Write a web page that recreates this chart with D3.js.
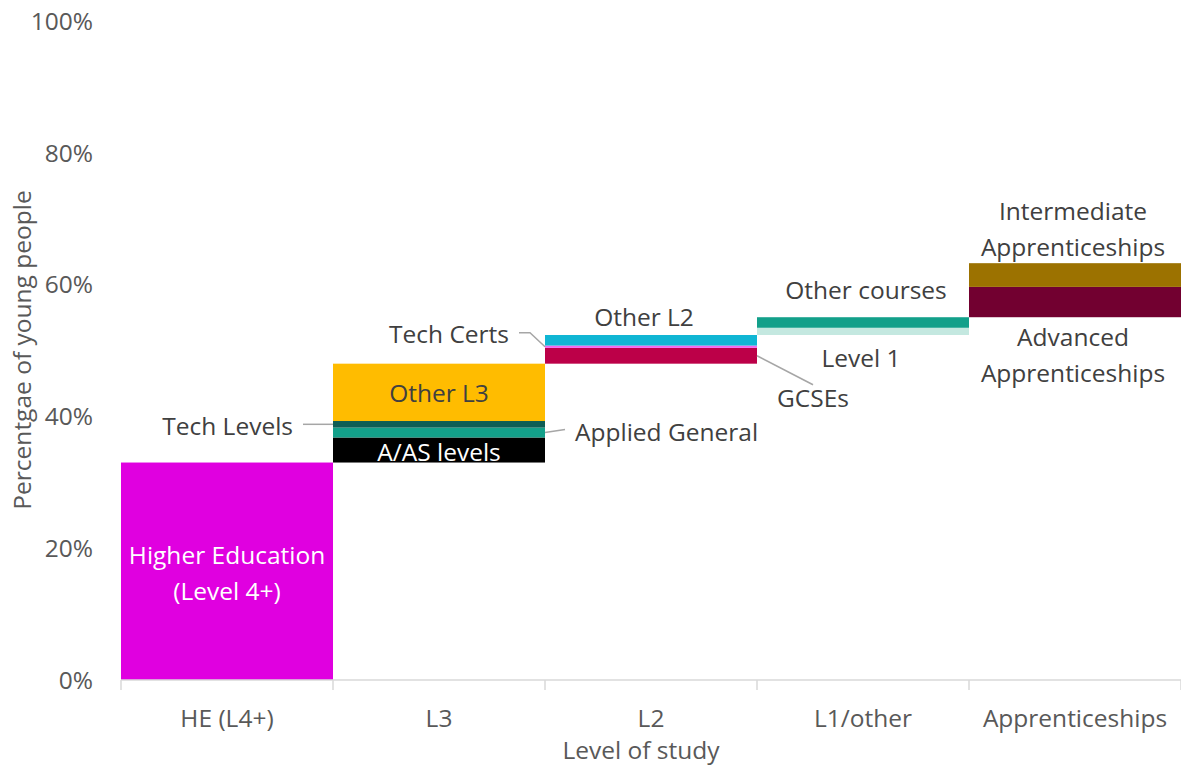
<!DOCTYPE html>
<html>
<head>
<meta charset="utf-8">
<script src="https://cdn.jsdelivr.net/npm/d3@7"></script>
<style>
    html, body { margin: 0; padding: 0; background: #ffffff; }
    svg text { font-family: "Open Sans", "Noto Sans", sans-serif; }
</style>
</head>
<body>
<svg id="chart" width="1181" height="766"></svg>
<script>
// Level of study categories (x axis)
const categories = ["HE (L4+)", "L3", "L2", "L1/other", "Apprenticeships"];

// Segments, stacked bottom-up; each category starts where the previous one ended
const segmentNames = ["Higher Education", "A/AS levels", "Applied General", "Tech Levels", "Other L3",
    "GCSEs", "Tech Certs", "Other L2", "Level 1", "Other courses",
    "Advanced Apprenticeships", "Intermediate Apprenticeships"];
const segmentCategory = ["HE (L4+)", "L3", "L3", "L3", "L3",
    "L2", "L2", "L2", "L1/other", "L1/other",
    "Apprenticeships", "Apprenticeships"];
const segmentValues = [33.0, 3.8, 1.5, 1.0, 8.7,
    2.4, 0.35, 1.6, 1.1, 1.6,
    4.6, 3.6];

const yTicks = [0, 20, 40, 60, 80, 100];

const segmentColors = ["#e000e0", "#000000", "#13a08a", "#0e5e55", "#ffbc00",
    "#bc0048", "#f466f0", "#10b6d4", "#c4e8e0", "#12a08a",
    "#720030", "#9c7200"];

let svg = d3.select("#chart");
let dimensions = getDimensions(svg, {top: 21, right: 0, bottom: 86, left: 121});
let fontSize = 24.5;

// Build waterfall: running total across all segments
let running = 0;
let segments = segmentNames.map((name, i) => {
    let d = {name: name, category: segmentCategory[i], y0: running, y1: running + segmentValues[i], color: segmentColors[i]};
    running = d.y1;
    return d;
});

let scale = {
    x: d3.scaleBand()
        .range([0, dimensions.width])
        .padding(0)
        .domain(categories),
    y: d3.scaleLinear()
        .range([dimensions.height, 0])
        .domain([0, 100])
};

let group = svg.append("g")
    .attr("transform", `translate(${dimensions.margin.left}, ${dimensions.margin.top})`);

// Y tick labels (no axis line)
group.append("g")
    .selectAll("text")
    .data(yTicks)
    .enter()
    .append("text")
    .attr("x", -28)
    .attr("y", d => scale.y(d))
    .attr("dy", "0.36em")
    .attr("text-anchor", "end")
    .style("font-size", fontSize + "px")
    .style("fill", "#595959")
    .text(d => d + "%");

// Bars
group.selectAll(".bar")
    .data(segments)
    .enter()
    .append("rect")
    .attr("class", "bar")
    .attr("x", d => scale.x(d.category))
    .attr("y", d => scale.y(d.y1))
    .attr("width", scale.x.bandwidth())
    .attr("height", d => scale.y(d.y0) - scale.y(d.y1))
    .style("fill", d => d.color);

// X axis line with ticks between categories
let xAxis = group.append("g")
    .attr("transform", `translate(0, ${dimensions.height})`);
xAxis.append("line")
    .attr("x1", 0)
    .attr("x2", dimensions.width)
    .style("stroke", "#d9d9d9")
    .style("stroke-width", 1.5);
xAxis.selectAll(".tick")
    .data(categories.concat([null]))
    .enter()
    .append("line")
    .attr("x1", d => d === null ? dimensions.width : scale.x(d))
    .attr("x2", d => d === null ? dimensions.width : scale.x(d))
    .attr("y1", 0)
    .attr("y2", 10)
    .style("stroke", "#d9d9d9")
    .style("stroke-width", 1.5);
xAxis.selectAll(".cat")
    .data(categories)
    .enter()
    .append("text")
    .attr("x", d => scale.x(d) + scale.x.bandwidth() / 2)
    .attr("y", 38)
    .attr("dy", "0.36em")
    .attr("text-anchor", "middle")
    .style("font-size", fontSize + "px")
    .style("fill", "#595959")
    .text(d => d);

// Axis titles
svg.append("text")
    .attr("x", 641)
    .attr("y", 750)
    .attr("dy", "0.36em")
    .attr("text-anchor", "middle")
    .style("font-size", fontSize + "px")
    .style("fill", "#595959")
    .text("Level of study");

svg.append("text")
    .attr("transform", "translate(22, 350) rotate(-90)")
    .attr("dy", "0.36em")
    .attr("text-anchor", "middle")
    .style("font-size", fontSize + "px")
    .style("fill", "#595959")
    .text("Percentgae of young people");

// Segment labels: where to put each one relative to its segment
let seg = name => segments.find(s => s.name === name);
let left = s => scale.x(s.category);
let right = s => scale.x(s.category) + scale.x.bandwidth();
let mid = s => scale.x(s.category) + scale.x.bandwidth() / 2;
let midY = s => scale.y((s.y0 + s.y1) / 2);

let labelLayout = [
    {name: "Higher Education", lines: ["Higher Education", "(Level 4+)"], x: s => mid(s), y: s => midY(s) + 2, anchor: "middle", color: "#ffffff"},
    {name: "A/AS levels", lines: ["A/AS levels"], x: s => mid(s), y: s => midY(s) + 2, anchor: "middle", color: "#ffffff"},
    {name: "Other L3", lines: ["Other L3"], x: s => mid(s), y: s => midY(s) + 1, anchor: "middle", color: "#404040"},
    {name: "Tech Levels", lines: ["Tech Levels"], x: s => left(s) - 40, y: s => midY(s) + 2, anchor: "end", color: "#404040"},
    {name: "Applied General", lines: ["Applied General"], x: s => right(s) + 30, y: s => midY(s), anchor: "start", color: "#404040"},
    {name: "Tech Certs", lines: ["Tech Certs"], x: s => left(s) - 36, y: s => midY(s) - 13, anchor: "end", color: "#404040"},
    {name: "Other L2", lines: ["Other L2"], x: s => mid(s) - 7, y: s => scale.y(s.y1) - 18, anchor: "middle", color: "#404040"},
    {name: "GCSEs", lines: ["GCSEs"], x: s => right(s) + 56, y: s => midY(s) + 42, anchor: "middle", color: "#404040"},
    {name: "Level 1", lines: ["Level 1"], x: s => mid(s) - 2, y: s => scale.y(s.y0) + 23, anchor: "middle", color: "#404040"},
    {name: "Other courses", lines: ["Other courses"], x: s => mid(s) + 3, y: s => scale.y(s.y1) - 27, anchor: "middle", color: "#404040"},
    {name: "Advanced Apprenticeships", lines: ["Advanced", "Apprenticeships"], x: s => mid(s) - 2, y: s => scale.y(s.y0) + 38, anchor: "middle", color: "#404040"},
    {name: "Intermediate Apprenticeships", lines: ["Intermediate", "Apprenticeships"], x: s => mid(s) - 2, y: s => scale.y(s.y1) - 34, anchor: "middle", color: "#404040"}
];

labelLayout.forEach(l => {
    let s = seg(l.name);
    let n = l.lines.length;
    let text = group.append("text")
        .attr("text-anchor", l.anchor)
        .style("font-size", fontSize + "px")
        .style("fill", l.color);
    l.lines.forEach((line, i) => {
        text.append("tspan")
            .attr("x", l.x(s))
            .attr("y", l.y(s) + (i - (n - 1) / 2) * 35.5)
            .attr("dy", "0.36em")
            .text(line);
    });
});

// Leader lines from labels to thin segments
let leaders = [
    {name: "Tech Levels", points: s => [[left(s) - 30, midY(s)], [left(s), midY(s)]]},
    {name: "Applied General", points: s => [[right(s), midY(s)], [right(s) + 20, midY(s) - 3]]},
    {name: "Tech Certs", points: s => [[left(s) - 26, midY(s) - 14], [left(s) - 15, midY(s) - 14], [left(s), midY(s)]]},
    {name: "GCSEs", points: s => [[right(s), midY(s)], [right(s) + 56, midY(s) + 29]]}
];

group.selectAll(".leader")
    .data(leaders)
    .enter()
    .append("path")
    .attr("class", "leader")
    .attr("d", l => d3.line()(l.points(seg(l.name))))
    .style("fill", "none")
    .style("stroke", "#a6a6a6")
    .style("stroke-width", 1.5);

function getDimensions (svg, margin) {
    return {
        width: svg.attr("width") - margin.left - margin.right,
        height: svg.attr("height") - margin.top - margin.bottom,
        margin: margin
    };
}
</script>
</body>
</html>
